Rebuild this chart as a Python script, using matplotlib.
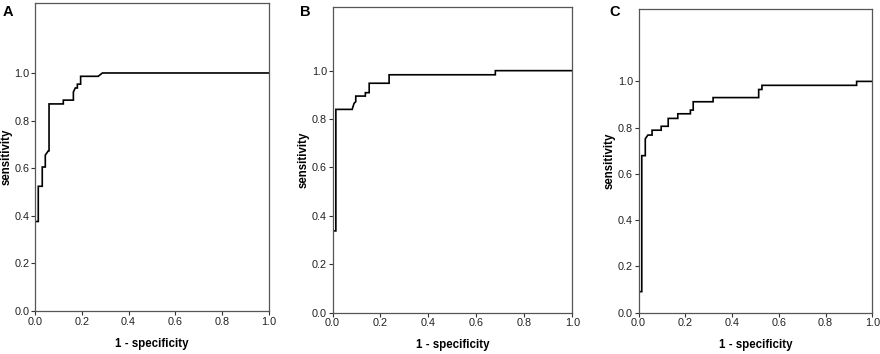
import matplotlib
matplotlib.use("Agg")
import matplotlib.pyplot as plt

plt.rcParams["font.family"] = ["Liberation Sans", "DejaVu Sans"]

# ROC curve vertices (1 - specificity, sensitivity)
fpr_a = [0, 0, 0.014, 0.014, 0.031, 0.031, 0.044, 0.044, 0.057, 0.060, 0.060, 0.121, 0.121,
         0.164, 0.164, 0.172, 0.181, 0.181, 0.195, 0.195, 0.270, 0.288, 1.0]
tpr_a = [0, 0.376, 0.376, 0.524, 0.524, 0.605, 0.605, 0.655, 0.673, 0.673, 0.870, 0.870, 0.886,
         0.886, 0.920, 0.937, 0.937, 0.953, 0.953, 0.986, 0.986, 1.0, 1.0]

fpr_b = [0, 0, 0.014, 0.014, 0.082, 0.090, 0.097, 0.097, 0.137, 0.137, 0.153, 0.153, 0.236,
         0.236, 0.679, 0.679, 1.0]
tpr_b = [0, 0.338, 0.338, 0.840, 0.840, 0.865, 0.872, 0.895, 0.895, 0.909, 0.909, 0.948, 0.948,
         0.983, 0.983, 1.0, 1.0]

fpr_c = [0, 0, 0.014, 0.014, 0.029, 0.029, 0.040, 0.058, 0.058, 0.097, 0.097, 0.127, 0.127,
         0.168, 0.168, 0.222, 0.222, 0.234, 0.234, 0.319, 0.319, 0.514, 0.514, 0.528, 0.528,
         0.933, 0.933, 1.0]
tpr_c = [0, 0.091, 0.091, 0.679, 0.679, 0.752, 0.768, 0.768, 0.789, 0.789, 0.806, 0.806, 0.840,
         0.840, 0.860, 0.860, 0.876, 0.876, 0.912, 0.912, 0.930, 0.930, 0.965, 0.965, 0.983,
         0.983, 1.0, 1.0]

panel_labels = ["A", "B", "C"]
ticks = [0.0, 0.2, 0.4, 0.6, 0.8, 1.0]
tick_labels = ["0.0", "0.2", "0.4", "0.6", "0.8", "1.0"]

W, H = 880, 354
fig = plt.figure(figsize=(W / 100, H / 100), dpi=100)

# pixel boxes: left, right, top, bottom, y max, letter x
boxes = [
    (35, 269, 3, 311, 1.294, 8),
    (332.5, 572.3, 7, 312.7, 1.263, 305),
    (638.5, 872.3, 9, 312.7, 1.313, 615),
]
curves = [(fpr_a, tpr_a), (fpr_b, tpr_b), (fpr_c, tpr_c)]

for (l, r, t, b, ymax, lx), (fx, ty), lab in zip(boxes, curves, panel_labels):
    ax = fig.add_axes([l / W, 1 - b / H, (r - l) / W, (b - t) / H])
    ax.plot(fx, ty, color="black", lw=1.2, solid_joinstyle="miter")
    ax.set_xlim(0, 1)
    ax.set_ylim(0, ymax)
    ax.set_xticks(ticks)
    ax.set_xticklabels(tick_labels)
    ax.set_yticks(ticks)
    ax.set_yticklabels(tick_labels)
    ax.tick_params(direction="out", length=3, width=0.8, labelsize=7.8, pad=1,
                   colors="#333333", labelcolor="#222222")
    for s in ax.spines.values():
        s.set_color("#555555")
        s.set_linewidth(0.9)
    ax.set_xlabel("1 - specificity", fontsize=8.3, fontweight="bold", labelpad=8)
    ax.set_ylabel("sensitivity", fontsize=8.3, fontweight="bold", labelpad=1.5)
    fig.text(lx / W, 1 - 11.5 / H, lab, fontsize=10.5, fontweight="bold", ha="center", va="center")

fig.savefig("out.png", dpi=100)
